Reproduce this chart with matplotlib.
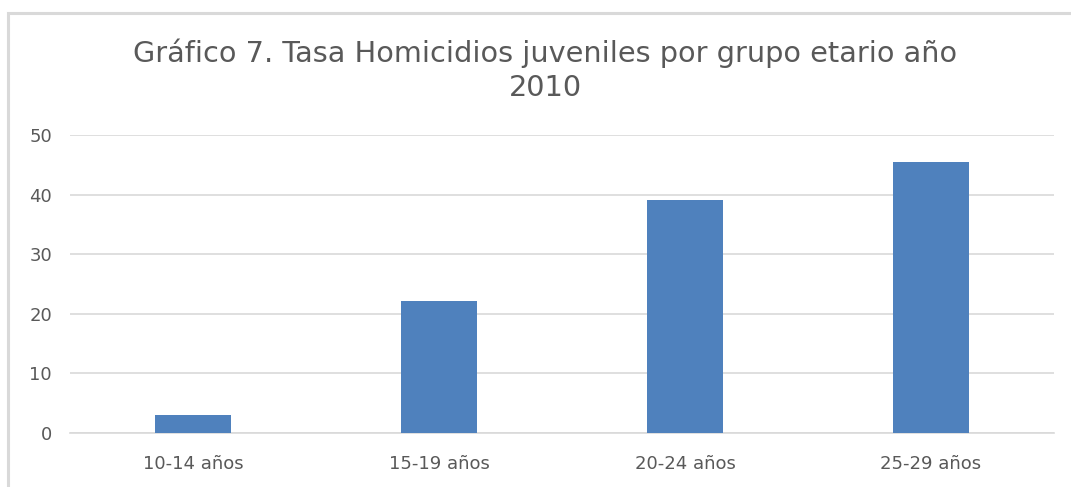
import matplotlib.pyplot as plt
from matplotlib.patches import Rectangle

categories = ["10-14 años", "15-19 años", "20-24 años", "25-29 años"]
tasas = [3.0, 22.1, 39.1, 45.5]
yticks = [0, 10, 20, 30, 40, 50]

title = "Gráfico 7. Tasa Homicidios juveniles por grupo etario año\n2010"
bar_color = "#4F81BD"
text_color = "#595959"

fig = plt.figure(figsize=(10.71, 4.87), dpi=100)
ax = fig.add_axes([70 / 1071, 1 - 433 / 487, 984 / 1071, 298 / 487])

# chart border (only left and top edges visible in the crop)
fig.patches.append(Rectangle((8 / 1071, -0.1), 1.2, 1 - 13 / 487 + 0.1,
                             transform=fig.transFigure, fill=False,
                             edgecolor="#d9d9d9", linewidth=2.2))

x = range(len(categories))
ax.bar(x, tasas, width=0.31, color=bar_color, zorder=3)

ax.set_xlim(-0.5, len(categories) - 0.5)
ax.set_ylim(0, 50)
ax.set_yticks(yticks)
ax.set_xticks(list(x))
ax.set_xticklabels(categories)
ax.grid(axis="y", color="#d9d9d9", linewidth=1.2, zorder=0)
for s in ["top", "right", "left"]:
    ax.spines[s].set_visible(False)
ax.spines["bottom"].set_color("#d9d9d9")
ax.spines["bottom"].set_linewidth(1.2)
ax.tick_params(length=0, labelsize=13, labelcolor=text_color)
ax.tick_params(axis="x", pad=16)
ax.tick_params(axis="y", pad=13)

fig.text(545 / 1071, 1 - 70 / 487, title, ha="center", va="center",
         fontsize=20.7, color=text_color, linespacing=1.25)

fig.savefig("out.png", dpi=100)
